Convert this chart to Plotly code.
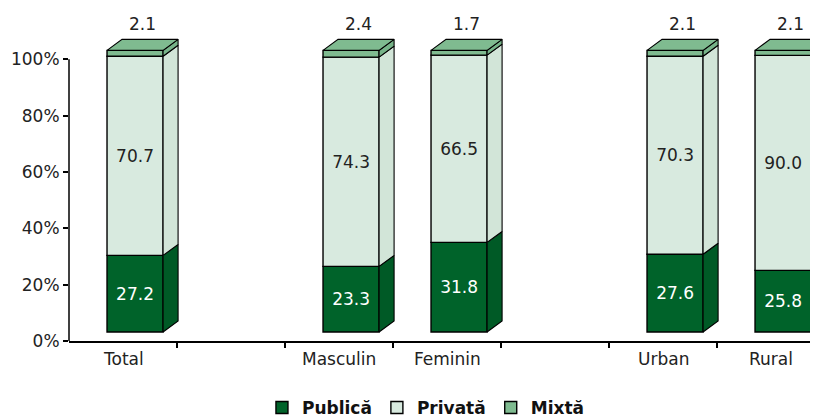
import plotly.graph_objects as go

# ---------------- data ----------------
groups = ["Total", "Masculin", "Feminin", "Urban", "Rural"]
slots = [0, 2, 3, 5, 6]          # category slots (1 and 4 are empty gaps)
publica = [27.2, 23.3, 31.8, 27.6, 25.8]
privata = [70.7, 74.3, 66.5, 70.3, 90.0]
mixta = [2.1, 2.4, 1.7, 2.1, 2.1]
series_names = ["Publică", "Privată", "Mixtă"]
y_ticks = [0, 20, 40, 60, 80, 100]

# ---------------- style ----------------
COLORS = ["#00632a", "#d8eadf", "#7fbb90"]
SIDE_COLORS = ["#005a26", "#d2e5d8", "#76b388"]
TEXT_COLORS = ["white", "#222222", "#222222"]
FONT = "DejaVu Sans"
FLOOR = 3.2      # 3D floor lift of the front face (axis units)
DX = 0.139       # depth offset in x (category units)
DY = 3.9         # depth offset in y (percent units)
OFF = -0.148     # bar left edge relative to slot centre
W = 0.519        # bar width

series = [publica, privata, mixta]
totals = [sum(v) for v in zip(*series)]
pcts = [[v / t * 100 for v, t in zip(s, totals)] for s in series]

fig = go.Figure()

# front faces
cum = [FLOOR] * len(slots)
bases_all = []
for k, (name, vals, pc) in enumerate(zip(series_names, series, pcts)):
    bases = list(cum)
    bases_all.append(bases)
    show_text = k < 2
    fig.add_trace(go.Bar(
        x=slots, y=pc, base=bases, width=W, offset=OFF, name=name,
        marker=dict(color=COLORS[k], line=dict(color="black", width=1.4)),
        text=[f"{v:.1f}" for v in vals] if show_text else None,
        textposition="inside" if show_text else "none",
        insidetextanchor="middle",
        textangle=0,
        textfont=dict(family=FONT, size=17, color=TEXT_COLORS[k]),
        hoverinfo="skip",
    ))
    cum = [c + p for c, p in zip(cum, pc)]

# side faces (3D depth)
for k in range(3):
    xs, ys = [], []
    for i, s in enumerate(slots):
        xr = s + OFF + W
        y0 = bases_all[k][i]
        y1 = y0 + pcts[k][i]
        xs += [xr, xr + DX, xr + DX, xr, xr, None]
        ys += [y0, y0 + DY, y1 + DY, y1, y0, None]
    fig.add_trace(go.Scatter(
        x=xs, y=ys, mode="lines", fill="toself", fillcolor=SIDE_COLORS[k],
        line=dict(color="black", width=1.1), showlegend=False, hoverinfo="skip",
    ))

# top faces
xs, ys = [], []
for i, s in enumerate(slots):
    xl = s + OFF
    xr = xl + W
    yt = cum[i]
    xs += [xl, xr, xr + DX, xl + DX, xl, None]
    ys += [yt, yt, yt + DY, yt + DY, yt, None]
fig.add_trace(go.Scatter(
    x=xs, y=ys, mode="lines", fill="toself", fillcolor=COLORS[2],
    line=dict(color="black", width=1.1), showlegend=False, hoverinfo="skip",
))

annotations = []
# mixta labels above bars
for i, s in enumerate(slots):
    annotations.append(dict(
        x=s + OFF + W / 2 + DX / 2, y=cum[i] + DY, xref="x", yref="y",
        text=f"{mixta[i]:.1f}", showarrow=False, yanchor="middle", yshift=15,
        font=dict(family=FONT, size=17, color="#222222"),
    ))
# category labels
for g, s in zip(groups, slots):
    annotations.append(dict(
        x=s, y=0, xref="x", yref="y", text=g, showarrow=False,
        yanchor="middle", yshift=-18,
        font=dict(family=FONT, size=17, color="#222222"),
    ))

fig.update_layout(
    width=810, height=411,
    margin=dict(l=61, r=0, t=26, b=78),
    paper_bgcolor="white", plot_bgcolor="white",
    barmode="overlay",
    showlegend=True,
    legend=dict(
        orientation="h", xref="container", yref="container",
        x=0.516, y=0.027, xanchor="center", yanchor="middle",
        font=dict(family=FONT, size=17, color="#111111", weight="bold"),
        itemwidth=30, traceorder="normal",
    ),
    xaxis=dict(
        range=[-0.5, 6.435], showgrid=False, zeroline=False,
        showline=True, linecolor="black", linewidth=1.5,
        tickmode="array", tickvals=[s + 0.5 for s in range(6)],
        showticklabels=False, ticks="outside", ticklen=5,
        tickcolor="black", tickwidth=1.5, fixedrange=True,
    ),
    yaxis=dict(
        range=[0, 109], showgrid=False, zeroline=False, showline=False,
        tickmode="array", tickvals=y_ticks,
        ticktext=[f"{v}%" for v in y_ticks],
        ticks="outside", ticklen=5, tickcolor="black", tickwidth=1.5,
        tickfont=dict(family=FONT, size=17, color="#222222"),
        fixedrange=True,
    ),
    shapes=[dict(type="line", xref="paper", yref="y", x0=0, x1=0,
                 y0=0, y1=y_ticks[-1], line=dict(color="black", width=1.5))],
    annotations=annotations,
)

fig.write_html("out.html")
